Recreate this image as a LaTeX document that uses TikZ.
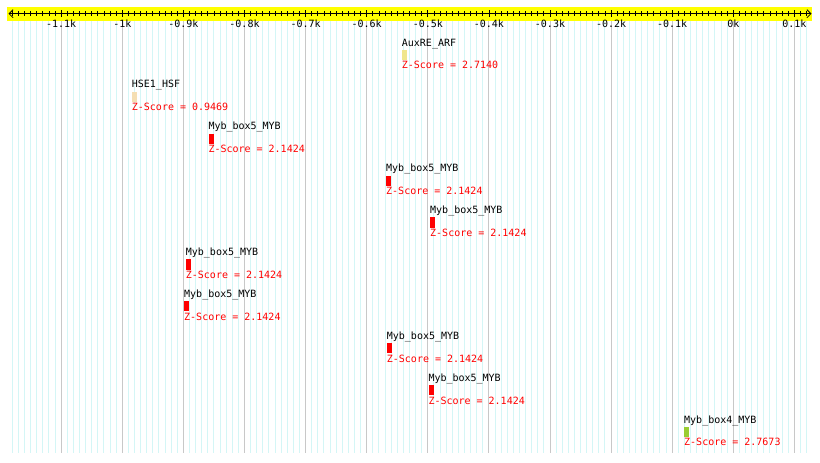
\documentclass[tikz,border=0pt]{standalone}
\usepackage{fontspec}
\setmonofont{DejaVu Sans Mono}
\usepackage{xcolor}
\usepackage{tikz}
\usetikzlibrary{arrows.meta}
\definecolor{axYellow}{RGB}{255,255,0}
\definecolor{gridCyan}{RGB}{212,246,246}
\definecolor{gridGrey}{RGB}{200,200,200}
\definecolor{motKhaki}{RGB}{240,230,140}
\definecolor{motWheat}{RGB}{245,222,179}
\definecolor{motRed}{RGB}{255,0,0}
\definecolor{motGreen}{RGB}{154,205,50}

\begin{document}
\begin{tikzpicture}[x=1pt,y=-1pt,
    txt/.style={font=\ttfamily\fontsize{10}{12}\selectfont,inner sep=0pt},
    lbl/.style={txt,anchor=base west,text=black},
    zsc/.style={txt,anchor=base west,text=motRed},
    axlbl/.style={txt,anchor=base},
    motif/.style={inner sep=0pt,minimum width=5pt,minimum height=10.2pt,anchor=north west},
    axarr/.style={{Straight Barb[length=4pt,width=8pt]}-{Straight Barb[length=4pt,width=8pt]},line width=0.8pt}
  ]
  \useasboundingbox (0,0) rectangle (820,463);
  % grid
  \foreach \v in {-118,...,12}
    \draw[gridCyan,line width=1pt] ({733.3+6.11*\v},20.5) -- ({733.3+6.11*\v},453);
  \foreach \v in {-11,...,1}
    \draw[gridGrey,line width=1pt] ({733.3+61.1*\v},20.5) -- ({733.3+61.1*\v},453);
  % axis
  \fill[axYellow] (7,7) rectangle (812,20.5);
  \coordinate (axL) at (8.5,13.7);
  \coordinate (axR) at (811.5,13.7);
  \draw[axarr] (axL) -- (axR);
  \foreach \v in {-118,...,12}
    \draw[line width=0.8pt] ({733.3+6.11*\v},11.2) -- ({733.3+6.11*\v},16.2);
  \foreach \v/\t in {-11/-1.1k,-10/-1k,-9/-0.9k,-8/-0.8k,-7/-0.7k,-6/-0.6k,-5/-0.5k,
      -4/-0.4k,-3/-0.3k,-2/-0.2k,-1/-0.1k,0/0k,1/0.1k}{
    \draw[line width=0.8pt] ({733.3+61.1*\v},10.2) -- ({733.3+61.1*\v},17.2);
    \node[axlbl] (ax\v) at ({733.3+61.1*\v},27.3) {\t};
  }
  % motifs
  \foreach \i/\x/\nm/\zs/\col in {
      1/401.7/AuxRE\_ARF/2.7140/motKhaki,
      2/131.7/HSE1\_HSF/0.9469/motWheat,
      3/208.3/Myb\_box5\_MYB/2.1424/motRed,
      4/386/Myb\_box5\_MYB/2.1424/motRed,
      5/430/Myb\_box5\_MYB/2.1424/motRed,
      6/185.7/Myb\_box5\_MYB/2.1424/motRed,
      7/184/Myb\_box5\_MYB/2.1424/motRed,
      8/386.7/Myb\_box5\_MYB/2.1424/motRed,
      9/428.3/Myb\_box5\_MYB/2.1424/motRed,
      10/684/Myb\_box4\_MYB/2.7673/motGreen}{
    \pgfmathsetmacro\by{46+41.9*(\i-1)}
    \node[lbl] (nm\i) at (\x,\by) {\nm};
    \node[motif,fill=\col] (mt\i) at (\x,{\by+3.6}) {};
    \node[zsc] (zs\i) at (\x,{\by+22.8}) {Z-Score = \zs};
  }
\end{tikzpicture}
\end{document}
